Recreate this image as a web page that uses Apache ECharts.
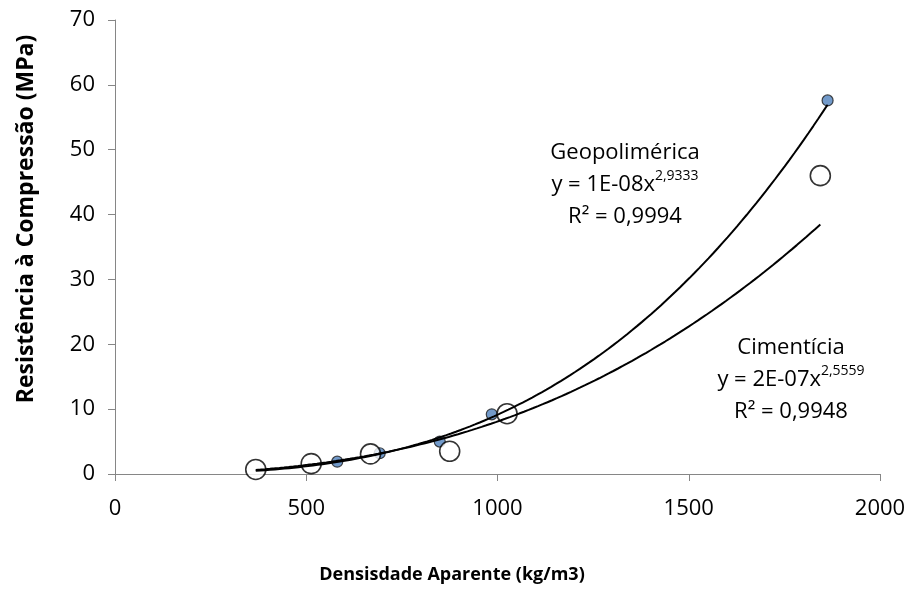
<!DOCTYPE html>
<html>
<head>
<meta charset="utf-8">
<script src="https://cdn.jsdelivr.net/npm/echarts@6/dist/echarts.min.js"></script>
<style>
html,body{margin:0;padding:0;background:#fff;}
#chart{width:910px;height:592px;}
</style>
</head>
<body>
<div id="chart"></div>
<script>
// ---- data ----
const geoX = [581, 692, 849, 985, 1863];
const geoY = [1.9, 3.2, 5.0, 9.2, 57.6];
const cimX = [368, 513, 668, 875, 1025, 1844];
const cimY = [0.7, 1.6, 3.1, 3.5, 9.3, 46.0];
const xTicks = [0, 500, 1000, 1500, 2000];
const yTicks = [0, 10, 20, 30, 40, 50, 60, 70];
const xTitle = 'Densisdade Aparente (kg/m3)';
const yTitle = 'Resistência à Compressão (MPa)';
const geoName = 'Geopolimérica';
const geoEq = ['y = 1E-08x', '2,9333'];
const geoR2 = 'R² = 0,9994';
const cimName = 'Cimentícia';
const cimEq = ['y = 2E-07x', '2,5559'];
const cimR2 = 'R² = 0,9948';

// power-law trendline (least squares in log space), as the spreadsheet does
function powerFit(xs, ys) {
  const n = xs.length;
  const lx = xs.map(Math.log), ly = ys.map(Math.log);
  const mx = lx.reduce((a, b) => a + b, 0) / n;
  const my = ly.reduce((a, b) => a + b, 0) / n;
  let sxy = 0, sxx = 0;
  for (let i = 0; i < n; i++) { sxy += (lx[i] - mx) * (ly[i] - my); sxx += (lx[i] - mx) ** 2; }
  const b = sxy / sxx;
  const a = Math.exp(my - b * mx);
  return { a, b };
}
function trend(xs, ys, x0, x1) {
  const f = powerFit(xs, ys);
  const pts = [];
  const N = 120;
  for (let i = 0; i <= N; i++) {
    const x = x0 + (x1 - x0) * i / N;
    pts.push([x, f.a * Math.pow(x, f.b)]);
  }
  return pts;
}
const xStart = Math.min(...cimX);
const geoTrend = trend(geoX, geoY, xStart, Math.max(...geoX));
const cimTrend = trend(cimX, cimY, xStart, Math.max(...cimX));

const FONT = "'Open Sans', 'Liberation Sans', sans-serif";
const chart = echarts.init(document.getElementById('chart'), null, { renderer: 'canvas' });

const tickStyle = { color: '#000', fontFamily: FONT, fontSize: 22, formatter: v => String(v) };
const axisLine = { show: true, lineStyle: { color: '#868686', width: 1 } };

function annot(x, y, name, eq, r2) {
  return {
    type: 'text', x: x, y: y, z: 100,
    style: {
      text: '{t|' + name + '}\n{t|' + eq[0] + '}{s|' + eq[1] + '}\n{t|' + r2 + '}',
      align: 'center', verticalAlign: 'middle',
      rich: {
        t: { fontFamily: FONT, fontSize: 22, lineHeight: 32, fill: '#000', color: '#000' },
        s: { fontFamily: FONT, fontSize: 14, lineHeight: 14, verticalAlign: 'top', fill: '#000', color: '#000' }
      },
      fill: '#000'
    }
  };
}

chart.setOption({
  animation: false,
  backgroundColor: '#fff',
  grid: { left: 115, right: 30, top: 20, bottom: 118, containLabel: false },
  xAxis: {
    type: 'value', min: xTicks[0], max: xTicks[xTicks.length - 1], interval: 500,
    axisLine: axisLine,
    axisTick: { show: true, inside: false, length: 7, lineStyle: { color: '#868686' } },
    axisLabel: Object.assign({ margin: 24 }, tickStyle),
    splitLine: { show: false }
  },
  yAxis: {
    type: 'value', min: yTicks[0], max: yTicks[yTicks.length - 1], interval: 10,
    axisLine: axisLine,
    axisTick: { show: true, inside: false, length: 7, lineStyle: { color: '#868686' } },
    axisLabel: Object.assign({ margin: 20 }, tickStyle),
    splitLine: { show: false }
  },
  series: [
    {
      name: geoName, type: 'scatter', z: 2,
      data: geoX.map((x, i) => [x, geoY[i]]),
      symbol: 'circle', symbolSize: 11,
      itemStyle: { color: '#4F81BD', borderColor: '#1a1a1a', borderWidth: 1.2 }
    },
    {
      name: cimName, type: 'scatter', z: 3,
      data: cimX.map((x, i) => [x, cimY[i]]),
      symbol: 'circle', symbolSize: 20,
      itemStyle: { color: '#fff', borderColor: '#000', borderWidth: 1.6 }
    },
    {
      type: 'line', z: 4, data: geoTrend, showSymbol: false, symbol: 'none',
      lineStyle: { color: '#000', width: 2 }, silent: true
    },
    {
      type: 'line', z: 4, data: cimTrend, showSymbol: false, symbol: 'none',
      lineStyle: { color: '#000', width: 2 }, silent: true
    }
  ],
  graphic: [
    {
      type: 'text', x: 452, y: 575,
      style: { text: xTitle, align: 'center', verticalAlign: 'middle', fontFamily: FONT, fontSize: 18, fontWeight: 'bold', fill: '#000' }
    },
    {
      type: 'text', x: 26, y: 219, rotation: Math.PI / 2,
      style: { text: yTitle, align: 'center', verticalAlign: 'middle', fontFamily: FONT, fontSize: 23, fontWeight: 'bold', fill: '#000' }
    },
    annot(625, 185, geoName, geoEq, geoR2),
    annot(791, 380, cimName, cimEq, cimR2)
  ]
});
</script>
</body>
</html>
